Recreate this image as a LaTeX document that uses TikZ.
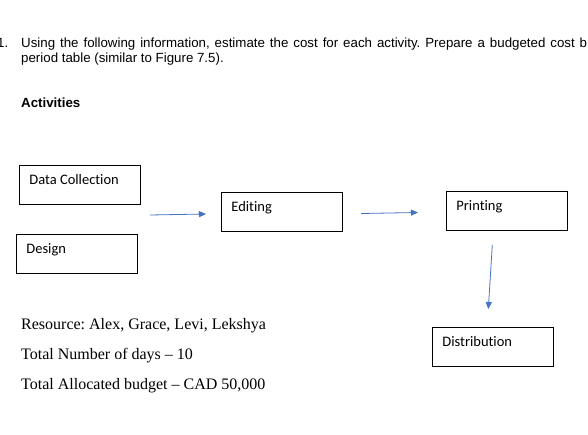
\documentclass[tikz,border=0pt]{standalone}
\usepackage{fontspec}
\setmainfont{Liberation Serif}
\newfontfamily\arialf{Liberation Sans}
\newfontfamily\calf[Ligatures=CommonOff]{Carlito}
\usetikzlibrary{arrows.meta}
\definecolor{arrowblue}{HTML}{4472C4}
\newcommand\acttext[1]{\vbox to 39pt{\vskip19pt\hbox to 121pt{\hskip10pt\smash{#1}\hfil}\vfil}}
\frenchspacing
\begin{document}
\begin{tikzpicture}[x=1pt,y=-1pt,
  actbox/.style={draw=black, line width=0.8pt, minimum width=121pt, minimum height=39pt, inner sep=0pt, anchor=north west, font=\calf\fontsize{14.5}{17}\selectfont},
  flow/.style={draw=arrowblue, line width=0.8pt, -{Triangle[length=7pt,width=6pt]}},
  hdr/.style={font=\arialf\fontsize{13.3}{15}\selectfont, anchor=base west, inner sep=0pt},
  info/.style={font=\fontsize{16}{19}\selectfont, anchor=base west, inner sep=0pt}]
\useasboundingbox (0,0) rectangle (588,435);
\clip (0,0) rectangle (588,435);
\fill[white] (0,0) rectangle (588,435);
% header
\node[hdr, anchor=base east] (num) at (8.5,47.5) {1.};
\node[hdr] (q1) at (21,47.5) {\makebox[566pt][s]{Using the following information, estimate the cost for each activity. Prepare a budgeted cost b}};
\node[hdr] (q2) at (21,62.5) {period table (similar to Figure 7.5).};
\node[hdr, font=\arialf\bfseries\fontsize{13.3}{15}\selectfont] (act) at (21,108) {Activities};
% boxes
\node[actbox] (dc) at (19,165) {\acttext{Data Collection}};
\node[actbox] (des) at (16,234) {\acttext{Design}};
\node[actbox] (ed) at (221,192) {\acttext{Editing}};
\node[actbox] (pr) at (446,191) {\acttext{Printing}};
\node[actbox] (dis) at (432,327) {\acttext{Distribution}};
% arrows
\coordinate (a1s) at (150,215);
\coordinate (a1e) at (206,214);
\coordinate (a2s) at (361,213.5);
\coordinate (a2e) at (418,212.5);
\coordinate (a3s) at (492.3,245);
\coordinate (a3e) at (488.3,309);
\draw[flow] (a1s) -- (a1e);
\draw[flow] (a2s) -- (a2e);
\draw[flow] (a3s) -- (a3e);
% info
\node[info] (res) at (21,329) {Resource: Alex, Grace, Levi, Lekshya};
\node[info] (days) at (21,359) {Total Number of days -- 10};
\node[info] (bud) at (21,389) {Total Allocated budget -- CAD 50,000};
\end{tikzpicture}
\end{document}
